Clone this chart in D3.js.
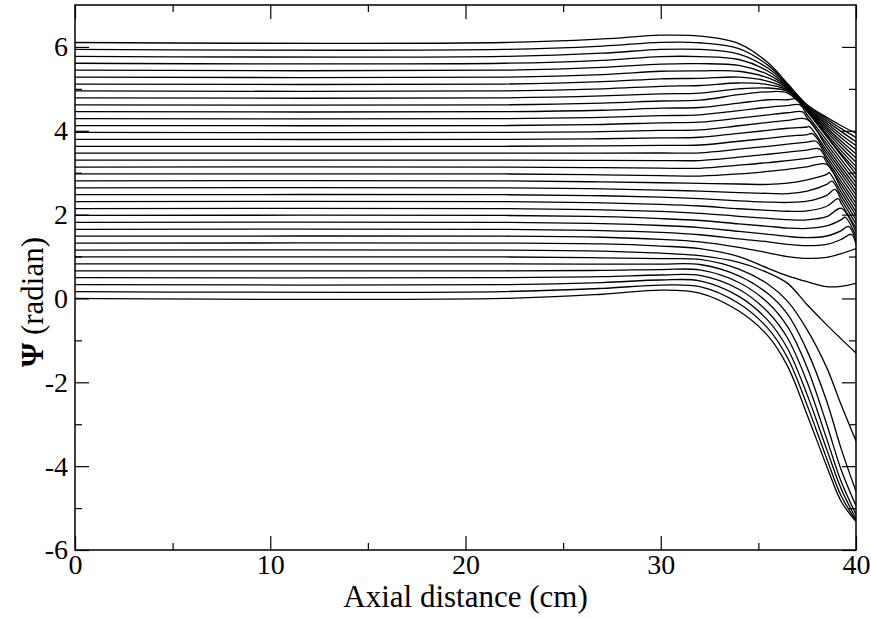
<!DOCTYPE html>
<html>
<head>
<meta charset="utf-8">
<script src="https://cdn.jsdelivr.net/npm/d3@7"></script>
<style>
  html, body { margin: 0; padding: 0; background: #fff; }
  svg { display: block; }
</style>
</head>
<body>
<svg id="chart" width="871" height="619"></svg>
<script>
// Axial positions (cm) at which every phase trace is sampled
const axialGrid = [0, 22, 27, 30, 32, 34, 35.5, 36.5, 37.5, 38.5, 39.25, 40];

// Phase Psi (radian) of each trace at the axial positions above, lowest start first
const psiCurves = [
  [0.000, 0.000, 0.10, 0.20, 0.130, -0.30, -0.90, -1.62, -2.78, -4.00, -4.85, -5.32],
  [0.165, 0.165, 0.24, 0.32, 0.280, -0.12, -0.72, -1.42, -2.55, -3.82, -4.72, -5.30],
  [0.330, 0.330, 0.38, 0.44, 0.420, 0.05, -0.53, -1.20, -2.30, -3.60, -4.55, -5.25],
  [0.495, 0.495, 0.52, 0.56, 0.550, 0.22, -0.33, -0.95, -2.00, -3.35, -4.38, -5.15],
  [0.660, 0.660, 0.67, 0.69, 0.680, 0.38, -0.11, -0.68, -1.65, -3.00, -4.10, -4.95],
  [0.825, 0.825, 0.82, 0.82, 0.810, 0.54, 0.11, -0.38, -1.25, -2.45, -3.60, -4.60],
  [0.990, 0.990, 0.97, 0.95, 0.930, 0.70, 0.34, -0.07, -0.75, -1.65, -2.55, -3.40],
  [1.155, 1.155, 1.13, 1.08, 1.020, 0.86, 0.61, 0.36, -0.15, -0.63, -0.97, -1.30],
  [1.320, 1.320, 1.30, 1.25, 1.190, 1.00, 0.72, 0.54, 0.40, 0.28, 0.29, 0.36],
  [1.485, 1.485, 1.46, 1.41, 1.350, 1.22, 1.09, 1.00, 0.955, 0.98, 1.07, 1.19],
  [1.650, 1.650, 1.62, 1.575, 1.520, 1.42, 1.35, 1.29, 1.26, 1.29, 1.41, 1.29],
  [1.815, 1.815, 1.785, 1.74, 1.690, 1.60, 1.53, 1.48, 1.45, 1.49, 1.62, 1.39],
  [1.980, 1.980, 1.95, 1.905, 1.860, 1.78, 1.72, 1.68, 1.67, 1.73, 1.88, 1.48],
  [2.145, 2.145, 2.115, 2.075, 2.030, 1.96, 1.91, 1.88, 1.875, 1.95, 2.15, 1.58],
  [2.310, 2.310, 2.28, 2.245, 2.205, 2.14, 2.10, 2.08, 2.09, 2.20, 2.26, 1.68],
  [2.475, 2.475, 2.45, 2.415, 2.380, 2.33, 2.30, 2.29, 2.32, 2.46, 2.35, 1.78],
  [2.640, 2.640, 2.615, 2.585, 2.560, 2.525, 2.505, 2.50, 2.56, 2.72, 2.44, 1.88],
  [2.805, 2.805, 2.78, 2.76, 2.745, 2.73, 2.72, 2.75, 2.83, 2.96, 2.53, 1.98],
  [2.970, 2.970, 2.95, 2.93, 2.920, 2.97, 3.03, 3.08, 3.14, 3.20, 2.62, 2.07],
  [3.135, 3.135, 3.12, 3.11, 3.105, 3.18, 3.24, 3.29, 3.34, 3.24, 2.71, 2.17],
  [3.300, 3.300, 3.295, 3.29, 3.290, 3.37, 3.44, 3.49, 3.54, 3.31, 2.79, 2.27],
  [3.465, 3.465, 3.465, 3.47, 3.475, 3.56, 3.63, 3.68, 3.73, 3.38, 2.88, 2.37],
  [3.630, 3.630, 3.64, 3.65, 3.660, 3.75, 3.82, 3.87, 3.91, 3.46, 2.97, 2.47],
  [3.795, 3.795, 3.81, 3.83, 3.845, 3.94, 4.01, 4.06, 4.09, 3.53, 3.05, 2.56],
  [3.960, 3.960, 3.98, 4.01, 4.020, 4.12, 4.20, 4.25, 4.27, 3.61, 3.13, 2.66],
  [4.125, 4.125, 4.15, 4.19, 4.205, 4.30, 4.38, 4.43, 4.31, 3.69, 3.22, 2.76],
  [4.290, 4.290, 4.32, 4.36, 4.380, 4.48, 4.56, 4.60, 4.38, 3.77, 3.31, 2.86],
  [4.455, 4.455, 4.49, 4.54, 4.555, 4.66, 4.74, 4.74, 4.46, 3.86, 3.41, 2.96],
  [4.620, 4.620, 4.66, 4.71, 4.730, 4.86, 4.93, 4.90, 4.47, 3.88, 3.45, 3.06],
  [4.785, 4.785, 4.83, 4.88, 4.900, 5.00, 5.02, 4.94, 4.485, 3.92, 3.52, 3.15],
  [4.950, 4.950, 5.00, 5.06, 5.080, 5.14, 5.10, 4.97, 4.50, 3.98, 3.60, 3.25],
  [5.115, 5.115, 5.17, 5.24, 5.250, 5.28, 5.18, 4.99, 4.515, 4.03, 3.68, 3.35],
  [5.280, 5.280, 5.34, 5.42, 5.430, 5.42, 5.26, 5.01, 4.53, 4.08, 3.75, 3.45],
  [5.445, 5.445, 5.51, 5.59, 5.600, 5.56, 5.34, 5.03, 4.545, 4.13, 3.83, 3.55],
  [5.610, 5.610, 5.68, 5.77, 5.770, 5.70, 5.42, 5.05, 4.56, 4.18, 3.90, 3.65],
  [5.775, 5.775, 5.85, 5.94, 5.940, 5.83, 5.49, 5.075, 4.58, 4.23, 3.98, 3.74],
  [5.940, 5.940, 6.02, 6.11, 6.100, 5.96, 5.56, 5.10, 4.60, 4.28, 4.05, 3.84],
  [6.105, 6.105, 6.19, 6.28, 6.260, 6.08, 5.62, 5.12, 4.62, 4.32, 4.12, 3.94]
];

// Turning point [axial cm, Psi] of traces whose crest falls between grid positions
const crestPoints = [
  null, null, null, null, null, null, null, null, null, null,
  [39.76, 1.53], [39.61, 1.72], [39.44, 1.94], null, [39.09, 2.38],
  [38.92, 2.60], [38.77, 2.80], [38.61, 3.00], null, [38.30, 3.38],
  [38.12, 3.57], [37.95, 3.75], [37.77, 3.93], [37.61, 4.10], null,
  [37.27, 4.45], [37.11, 4.62], [36.93, 4.76], null, null,
  null, null, null, null, null, null, null, null
];

const xMajorTicks = [0, 10, 20, 30, 40];
const xMinorTicks = [5, 15, 25, 35];
const yMajorTicks = [-6, -4, -2, 0, 2, 4, 6];
const yMinorTicks = [-5, -3, -1, 1, 3, 5];

const xTitle = "Axial distance (cm)";
const yTitleSymbol = "\u03A8";
const yTitleText = " (radian)";

// ---- layout ----
const width = 871, height = 619;
const plot = { left: 75, right: 856, top: 5, bottom: 550 };
const majorLen = 14, minorLen = 7;
const serif = '"Liberation Serif", "Times New Roman", Times, serif';

const svg = d3.select("#chart");

const x = d3.scaleLinear().domain([0, 40]).range([plot.left, plot.right]);
const y = d3.scaleLinear().domain([-6, 7]).range([plot.bottom, plot.top]);

svg.append("defs").append("clipPath").attr("id", "plot-clip")
  .append("rect")
  .attr("x", plot.left).attr("y", plot.top)
  .attr("width", plot.right - plot.left).attr("height", plot.bottom - plot.top);

// ---- traces ----
const traces = psiCurves.map((vals, i) => {
  const pts = axialGrid.map((a, j) => [a, vals[j]]);
  if (crestPoints[i]) pts.push(crestPoints[i]);
  pts.sort((p, q) => p[0] - q[0]);
  return pts;
});

const line = d3.line()
  .x(d => x(d[0]))
  .y(d => y(d[1]))
  .curve(d3.curveCatmullRom.alpha(0.5));

svg.append("g")
  .attr("clip-path", "url(#plot-clip)")
  .selectAll("path")
  .data(traces)
  .join("path")
  .attr("d", line)
  .attr("fill", "none")
  .attr("stroke", "#000")
  .attr("stroke-width", 1.3);

// ---- axes: inward ticks on all four sides ----
const fmt = d => String(d);

function addAxis(axis, tx, ty) {
  const g = svg.append("g").attr("transform", `translate(${tx},${ty})`).call(axis);
  g.select(".domain").remove();
  g.selectAll(".tick line").attr("stroke", "#000").attr("stroke-width", 1.2);
  g.selectAll(".tick text")
    .style("font-family", serif)
    .style("font-size", "28px")
    .attr("fill", "#000");
  return g;
}

addAxis(d3.axisBottom(x).tickValues(xMajorTicks).tickSizeInner(-majorLen).tickSizeOuter(0)
  .tickPadding(4).tickFormat(fmt), 0, plot.bottom);
addAxis(d3.axisBottom(x).tickValues(xMinorTicks).tickSizeInner(-minorLen).tickSizeOuter(0)
  .tickFormat(""), 0, plot.bottom);
addAxis(d3.axisTop(x).tickValues(xMajorTicks).tickSizeInner(-majorLen).tickSizeOuter(0)
  .tickFormat(""), 0, plot.top);
addAxis(d3.axisTop(x).tickValues(xMinorTicks).tickSizeInner(-minorLen).tickSizeOuter(0)
  .tickFormat(""), 0, plot.top);

addAxis(d3.axisLeft(y).tickValues(yMajorTicks).tickSizeInner(-majorLen).tickSizeOuter(0)
  .tickPadding(7).tickFormat(fmt), plot.left, 0);
addAxis(d3.axisLeft(y).tickValues(yMinorTicks).tickSizeInner(-minorLen).tickSizeOuter(0)
  .tickFormat(""), plot.left, 0);
addAxis(d3.axisRight(y).tickValues(yMajorTicks).tickSizeInner(-majorLen).tickSizeOuter(0)
  .tickFormat(""), plot.right, 0);
addAxis(d3.axisRight(y).tickValues(yMinorTicks).tickSizeInner(-minorLen).tickSizeOuter(0)
  .tickFormat(""), plot.right, 0);

// frame
svg.append("rect")
  .attr("x", plot.left).attr("y", plot.top)
  .attr("width", plot.right - plot.left).attr("height", plot.bottom - plot.top)
  .attr("fill", "none").attr("stroke", "#000").attr("stroke-width", 1.5);

// ---- titles ----
svg.append("text")
  .attr("x", (plot.left + plot.right) / 2)
  .attr("y", 607)
  .attr("text-anchor", "middle")
  .style("font-family", serif)
  .style("font-size", "31px")
  .text(xTitle);

const yT = svg.append("text")
  .attr("transform", "translate(43, 302) rotate(-90)")
  .attr("text-anchor", "middle")
  .style("font-family", serif)
  .style("font-size", "31px");
yT.append("tspan").attr("font-weight", "bold").text(yTitleSymbol);
yT.append("tspan").text(yTitleText);
</script>
</body>
</html>
